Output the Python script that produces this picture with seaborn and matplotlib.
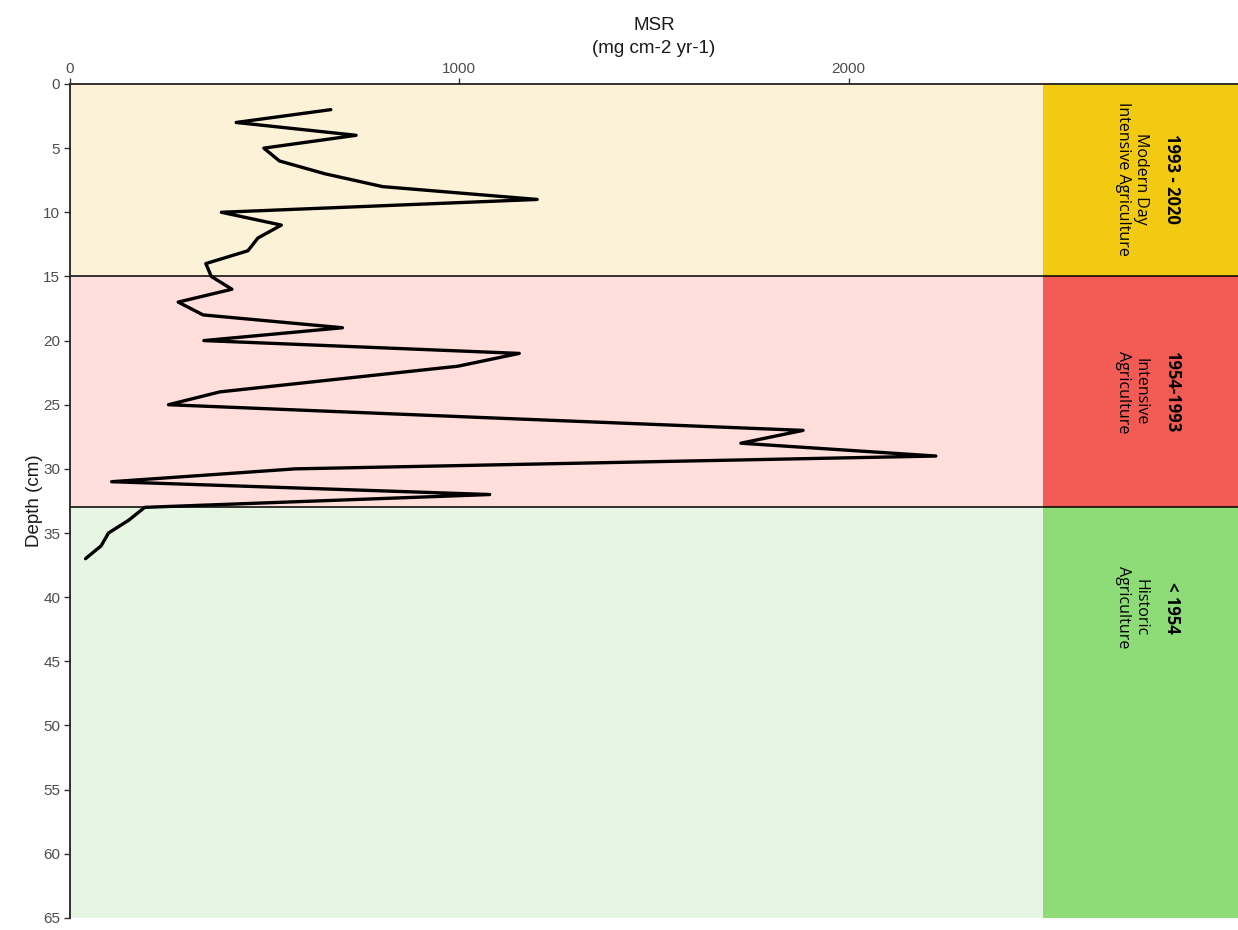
import matplotlib
matplotlib.use("Agg")
import matplotlib.pyplot as plt
import seaborn as sns
import pandas as pd

# depth profile of mass sedimentation rate
depth = [2, 3, 4, 5, 6, 7, 8, 9, 10, 11, 12, 13, 14, 15, 16, 17, 18, 19, 20,
         21, 22, 23, 24, 25, 26, 27, 28, 29, 30, 31, 32, 33, 34, 35, 36, 37]
msr = [670, 427, 735, 498, 538, 655, 803, 1200, 389, 543, 483, 457, 349, 363,
       416, 278, 342, 700, 344, 1154, 996, 690, 385, 253, 1060, 1883, 1723,
       2224, 578, 107, 1078, 192, 151, 99, 80, 40]

# period zones
zone_top = [0, 15, 33]
zone_bottom = [15, 33, 65]
zone_bg = ["#FCF2D7", "#FFDEDB", "#E7F6E2"]
zone_box = ["#F2CA12", "#F25C54", "#8EDC78"]
zone_years = ["1993 - 2020", "1954-1993", "< 1954"]
zone_desc = ["Modern Day\nIntensive Agriculture", "Intensive\nAgriculture",
             "Historic\nAgriculture"]
zone_label_depth = [7.4, 24, 40.8]

df = pd.DataFrame({"depth": depth, "msr": msr})

sns.set_style("white")
fig = plt.figure(figsize=(12.38, 9.3), dpi=100)
ax = fig.add_axes([0.0565, 0.013, 0.9435, 0.8967])

x_max = 3000
box_start = 2500

for top, bot, bg, box in zip(zone_top, zone_bottom, zone_bg, zone_box):
    ax.axhspan(top, bot, xmin=0, xmax=box_start / x_max, color=bg, lw=0, zorder=0)
    ax.axhspan(top, bot, xmin=box_start / x_max, xmax=1, color=box, lw=0, zorder=0)

for d in [15, 33]:
    ax.axhline(d, color="black", lw=1.1, zorder=1)

sns.lineplot(data=df, x="msr", y="depth", orient="y", color="black",
             lw=2.4, ax=ax, zorder=3)

for yrs, desc, yd in zip(zone_years, zone_desc, zone_label_depth):
    ax.text(2830, yd, yrs, rotation=270, ha="center", va="center",
            fontsize=12, fontweight="bold", family="Open Sans",
            color="black", zorder=4)
    ax.text(2728, yd, desc, rotation=270, ha="center", va="center",
            multialignment="center", fontsize=11.5, family="Open Sans",
            linespacing=1.15, color="black", zorder=4)

ax.set_xlim(0, x_max)
ax.set_ylim(65, 0)
ax.xaxis.tick_top()
ax.xaxis.set_label_position("top")
ax.set_xticks([0, 1000, 2000])
ax.set_yticks(range(0, 66, 5))
ax.set_xlabel("MSR\n(mg cm-2 yr-1)", fontsize=13.5, family="Liberation Sans",
              color="#1a1a1a", labelpad=6, linespacing=1.45)
ax.set_ylabel("Depth (cm)", fontsize=13.5, family="Liberation Sans",
              color="#1a1a1a", labelpad=0)
ax.tick_params(axis="both", colors="#333333", labelcolor="#4D4D4D",
               labelsize=11, length=4, width=1, direction="out")
ax.tick_params(axis="x", top=True, bottom=False, pad=2)
ax.tick_params(axis="y", left=True, pad=3)
for lab in ax.get_xticklabels() + ax.get_yticklabels():
    lab.set_family("Liberation Sans")

for side in ["right", "bottom"]:
    ax.spines[side].set_visible(False)
for side in ["top", "left"]:
    ax.spines[side].set_color("#222222")
    ax.spines[side].set_linewidth(1.3)
ax.grid(False)

fig.savefig("out.png", dpi=100)
